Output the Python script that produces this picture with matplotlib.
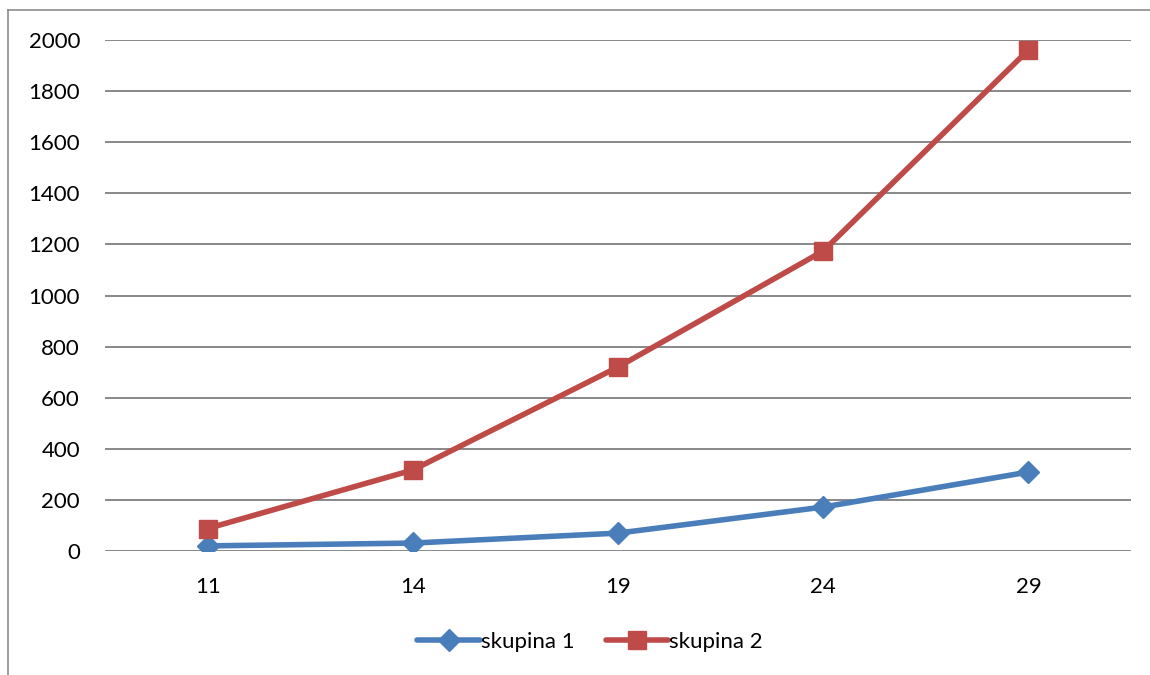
import matplotlib.pyplot as plt
from matplotlib.lines import Line2D

categories = ["11", "14", "19", "24", "29"]
skupina_1 = [20, 31, 70, 172, 309]
skupina_2 = [88, 317, 720, 1174, 1961]
y_ticks = [0, 200, 400, 600, 800, 1000, 1200, 1400, 1600, 1800, 2000]

plt.rcParams["font.family"] = ["Lato", "DejaVu Sans"]

fig = plt.figure(figsize=(11.5, 6.75), dpi=100)
ax = fig.add_axes([105 / 1150, 1 - 551 / 675, 1026 / 1150, 511 / 675])

x = list(range(len(categories)))
ax.plot(x, skupina_1, color="#4a7ebb", lw=4, marker="D", markersize=11,
        label="skupina 1", solid_capstyle="round")
ax.plot(x, skupina_2, color="#be4b48", lw=4, marker="s", markersize=13,
        label="skupina 2", solid_capstyle="round")

ax.set_xlim(-0.5, len(categories) - 0.5)
ax.set_ylim(0, 2000)
ax.set_yticks(y_ticks)
ax.set_xticks(x)
ax.set_xticklabels(categories)
ax.grid(axis="y", color="#888888", lw=1.4)
ax.set_axisbelow(True)
for side in ["top", "right", "left", "bottom"]:
    ax.spines[side].set_visible(False)
ax.tick_params(axis="both", length=0, labelsize=16, colors="black")
ax.tick_params(axis="y", pad=18)
ax.tick_params(axis="x", pad=19)

ax.legend(loc="center", bbox_to_anchor=(590 / 1150, 1 - 642 / 675),
          bbox_transform=fig.transFigure, ncol=2, frameon=False, fontsize=16,
          handlelength=2.8, handletextpad=0.05, columnspacing=1.4)

# outer chart frame
fig.add_artist(Line2D([8 / 1150, 8 / 1150], [0, 1 - 10 / 675],
                      transform=fig.transFigure, color="#8c8c8c", lw=1.2))
fig.add_artist(Line2D([8 / 1150, 1], [1 - 10 / 675, 1 - 10 / 675],
                      transform=fig.transFigure, color="#8c8c8c", lw=1.2))

fig.savefig("out.png", dpi=100)
